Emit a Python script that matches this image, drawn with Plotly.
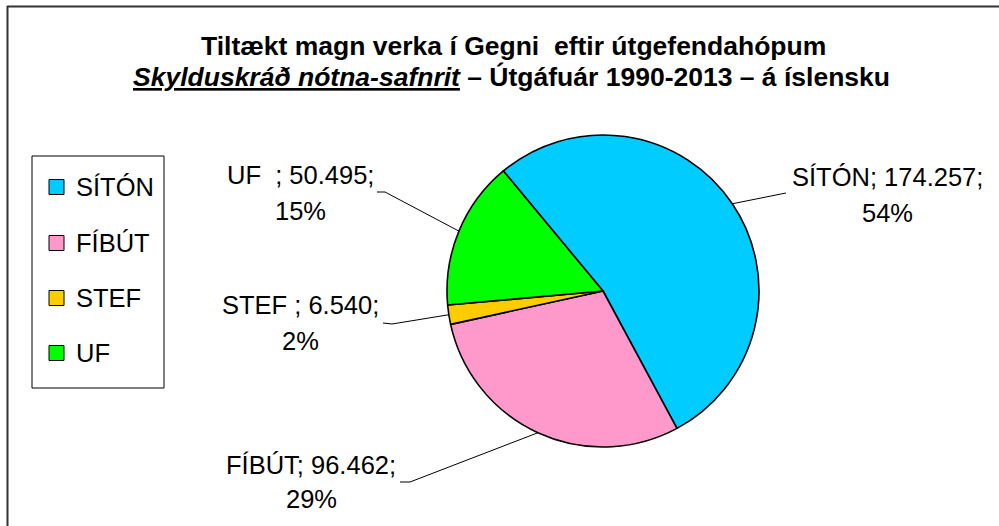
import math
import plotly.graph_objects as go

# ---------------- data ----------------
categories = ["SÍTÓN", "FÍBÚT", "STEF", "UF"]
values = [174257, 96462, 6540, 50495]
pct_labels = ["54%", "29%", "2%", "15%"]
label_names = ["SÍTÓN", "FÍBÚT", "STEF ", "UF  "]
colors = ["#00CCFF", "#FF99CC", "#FFCC00", "#00FF00"]

title_line1 = "Tiltækt magn verka í Gegni  eftir útgefendahópum"
title_line2 = ("<i><u>Skylduskráð nótna-safnrit</u></i>"
               " – Útgáfuár 1990-2013 – á íslensku")

# ---------------- layout helpers ----------------
W, H = 999, 526
FONT = "Arial, 'Liberation Sans', sans-serif"
LABEL_SIZE = 25.5
TITLE_SIZE = 26.5


def px(x):
    return x / W


def py(y):
    return 1 - y / H


CX, CY, R = 603, 291, 156
ROT = -39.7

# label placement (centre x, line1 y, line2 y) and leader elbow points
label_pos = {
    "SÍTÓN": (887, 177, 213, [(786, 193)]),
    "FÍBÚT": (311, 465, 499, [(410, 482), (400, 482)]),
    "STEF": (300, 305, 341, [(392, 324), (383, 323)]),
    "UF": (300, 175, 211, [(385, 192), (377, 192)]),
}
legend_y = [187, 243, 298, 353]

fig = go.Figure()
fig.add_trace(go.Pie(
    labels=categories,
    values=values,
    sort=False,
    direction="clockwise",
    rotation=ROT,
    textinfo="none",
    marker=dict(colors=colors, line=dict(color="black", width=1.6)),
    domain=dict(x=[px(CX - R), px(CX + R)], y=[py(CY + R), py(CY - R)]),
    showlegend=False,
    hovertemplate="%{label}: %{value}<extra></extra>",
))

annotations = []
shapes = []

# title
annotations.append(dict(text="<b>" + title_line1 + "</b>", x=px(513), y=py(45.5),
                        xref="paper", yref="paper", showarrow=False,
                        xanchor="center", yanchor="middle",
                        font=dict(family=FONT, size=TITLE_SIZE, color="black")))
annotations.append(dict(text="<b>" + title_line2 + "</b>", x=px(511), y=py(77),
                        xref="paper", yref="paper", showarrow=False,
                        xanchor="center", yanchor="middle",
                        font=dict(family=FONT, size=TITLE_SIZE, color="black")))

# data labels + leader lines
total = sum(values)
cum = 0
for cat, name, val, pct in zip(categories, label_names, values, pct_labels):
    mid = math.radians(ROT + 360 * (cum + val / 2) / total)
    cum += val
    ex = CX + R * math.sin(mid)
    ey = CY - R * math.cos(mid)
    lx, ly1, ly2, elbows = label_pos[cat]
    txt1 = f"{name}; {val:,}".replace(",", ".") + ";"
    annotations.append(dict(text=txt1, x=px(lx), y=py(ly1), xref="paper", yref="paper",
                            showarrow=False, xanchor="center", yanchor="middle",
                            font=dict(family=FONT, size=LABEL_SIZE, color="black")))
    annotations.append(dict(text=pct, x=px(lx), y=py(ly2), xref="paper", yref="paper",
                            showarrow=False, xanchor="center", yanchor="middle",
                            font=dict(family=FONT, size=LABEL_SIZE, color="black")))
    pts = [(ex, ey)] + elbows
    path = "M " + " L ".join(f"{px(x)},{py(y)}" for x, y in pts)
    shapes.append(dict(type="path", path=path, xref="paper", yref="paper",
                       line=dict(color="black", width=1)))

# manual legend
shapes.append(dict(type="rect", xref="paper", yref="paper",
                   x0=px(32), x1=px(164), y0=py(156), y1=py(388),
                   line=dict(color="black", width=1), fillcolor="white", layer="below"))
for cat, col, ly in zip(categories, colors, legend_y):
    shapes.append(dict(type="rect", xref="paper", yref="paper",
                       x0=px(49), x1=px(64), y0=py(ly - 7.5), y1=py(ly + 7.5),
                       line=dict(color="black", width=1), fillcolor=col))
    annotations.append(dict(text=cat, x=px(74), y=py(ly), xref="paper", yref="paper",
                            showarrow=False, xanchor="left", yanchor="middle",
                            font=dict(family=FONT, size=LABEL_SIZE, color="black")))

# outer chart frame (left and top edges visible)
shapes.append(dict(type="line", xref="paper", yref="paper",
                   x0=px(7.5), x1=px(7.5), y0=py(6), y1=py(530),
                   line=dict(color="#333333", width=2)))
shapes.append(dict(type="line", xref="paper", yref="paper",
                   x0=px(7), x1=px(1005), y0=py(6.5), y1=py(6.5),
                   line=dict(color="#333333", width=2)))

fig.update_layout(
    width=W, height=H, autosize=False,
    margin=dict(l=0, r=0, t=0, b=0),
    paper_bgcolor="white", plot_bgcolor="white",
    annotations=annotations, shapes=shapes,
    font=dict(family=FONT),
)

fig.write_html(
    "out.html",
    config={"displayModeBar": False},
    post_script="document.body.style.margin='0';document.body.style.overflow='hidden';",
)
